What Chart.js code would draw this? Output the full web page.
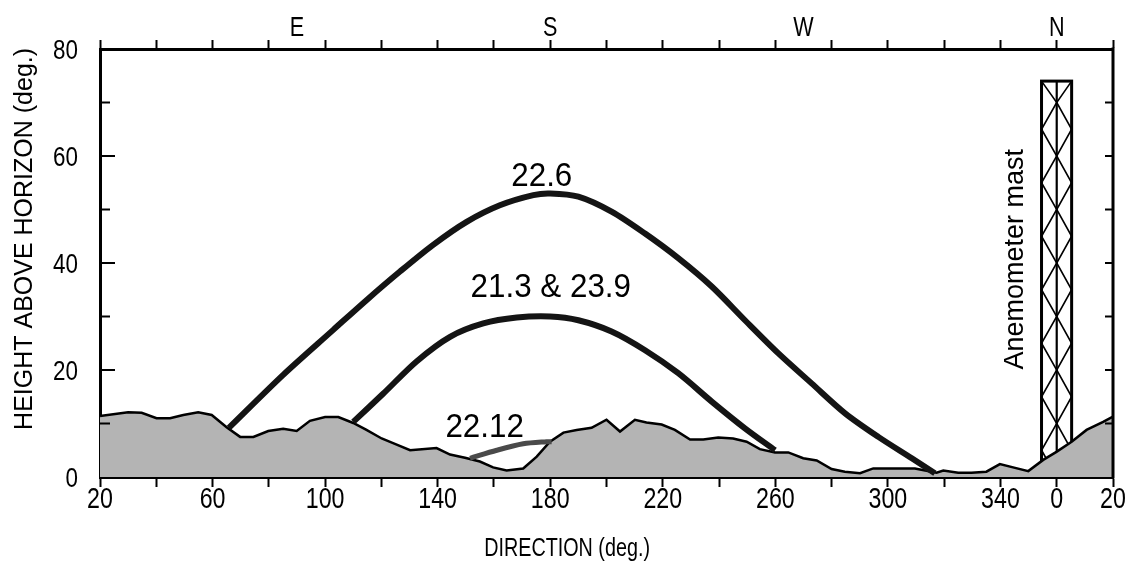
<!DOCTYPE html>
<html><head><meta charset="utf-8">
<script src="https://cdn.jsdelivr.net/npm/chart.js@4/dist/chart.umd.min.js"></script>
<style>html,body{margin:0;padding:0;background:#fff;}#wrap{width:1131px;height:561px;}</style>
</head><body><div id="wrap"><canvas id="c" width="1131" height="561"></canvas></div>
<script>
// ---- data ----
const horizonDir = [20,30,34.8,40.1,44.9,49.6,54.9,59.7,65,69.8,74.5,79.8,85.1,89.9,94.6,100,104.7,110,114.7,120.1,124.8,130.2,139.6,144.4,149.7,155,159.7,164.5,170.4,175.2,179.9,184.7,189.4,194.7,200,204.8,210.1,214.2,219.6,224.3,229.7,234.4,239.7,245,249.8,254.5,259.9,264.6,269.9,274.7,280,284.7,290.1,294.8,299.5,309.6,317.3,319.7,325,329.7,335,339.8,345.2,349.9,355.2,359.9,365.3,370.6,376.5,380];
const horizonAlt = [11.4,12.1,12.0,11.0,11.0,11.6,12.1,11.6,9.3,7.5,7.5,8.6,9.0,8.6,10.5,11.2,11.2,10.1,8.8,7.2,6.2,5.0,5.4,4.2,3.6,2.9,1.8,1.2,1.6,3.8,6.6,8.3,8.8,9.2,10.7,8.5,10.7,10.2,9.8,8.8,7.0,7.0,7.4,7.2,6.6,5.2,4.6,4.6,3.5,3.1,1.5,1.0,0.7,1.6,1.6,1.6,0.8,1.2,0.8,0.8,1.0,2.4,1.7,1.1,3.2,4.7,6.6,8.8,10.3,11.3];

const juneDir = [65.8,85.1,102.9,114.8,126.6,138.4,150.3,162.1,174,180,190,201.8,213.7,225.5,237.4,249.2,261.1,272.9,284.8,296.6,308.5,316.7];
const juneAlt = [9.2,19.1,27.5,33.1,38.4,43.4,47.7,50.8,52.7,53.0,52.4,49.6,45.5,40.9,35.6,29.3,23.1,17.5,11.9,7.5,3.5,0.7];

const equinoxDir = [110,120.7,132.5,144.4,156.2,168.1,180,190,201.8,213.7,225.5,237.4,249.2,259.9];
const equinoxAlt = [10.3,15.6,21.6,26.2,28.7,29.8,30.0,29.3,27.2,23.7,19.4,14.1,9.1,5.0];

const decemberDir = [151.5,161,170.4,178.7,180.5];
const decemberAlt = [3.5,5.0,6.2,6.6,6.6];

const bottomTickValues = [20,60,100,140,180,220,260,300,340,360,380];
const bottomTickText   = ['20','60','100','140','180','220','260','300','340','0','20'];
const compassValues = [90,180,270,360];
const compassText   = ['E','S','W','N'];
const yLabelValues = [0,20,40,60,80];
const xTitle = 'DIRECTION (deg.)';
const yTitle = 'HEIGHT ABOVE HORIZON (deg.)';

const curveLabelText = ['22.6','21.3 & 23.9','22.12'];
const curveLabelDir  = [177,180.2,156.7];
const curveLabelAlt  = [54.4,33.6,7.5];

const mastDir = [354.6,360,365.3];   // left edge, centre, right edge
const mastTopAlt = 74;
const mastNodeAlt = [70,65,60,55,50,45,40,35,30,25,20,15,10,5,0];
const mastLabel = 'Anemometer mast';
const mastLabelDir = 345.5, mastLabelAlt = 40.7;

// ---- build ----
const pts = (xs, ys) => xs.map((x, i) => ({x, y: ys[i]}));
const FONT = "'Liberation Sans', Arial, sans-serif";
const range = (a, b, s) => { const r = []; for (let v = a; v <= b; v += s) r.push(v); return r; };

function txt(ctx, s, x, y, size, sx, align, base, rot) {
  ctx.save();
  ctx.translate(x, y);
  if (rot) ctx.rotate(rot);
  ctx.scale(sx, 1);
  ctx.font = size + 'px ' + FONT;
  ctx.fillStyle = '#000';
  ctx.textAlign = align;
  ctx.textBaseline = base;
  ctx.fillText(s, 0, 0);
  ctx.restore();
}

const decor = {
  id: 'decor',
  beforeDatasetsDraw(chart) {
    const {ctx} = chart;
    const x = chart.scales.x, y = chart.scales.y;
    const xl = x.getPixelForValue(mastDir[0]), xc = x.getPixelForValue(mastDir[1]), xr = x.getPixelForValue(mastDir[2]);
    const yt = y.getPixelForValue(mastTopAlt), yb = y.getPixelForValue(0);
    ctx.save();
    ctx.strokeStyle = '#000';
    ctx.lineWidth = 1.6;
    ctx.beginPath();
    ctx.moveTo(xl, yt); let edge = false;
    mastNodeAlt.forEach(a => { ctx.lineTo(edge ? xl : xc, y.getPixelForValue(a)); edge = !edge; });
    ctx.moveTo(xr, yt); edge = false;
    mastNodeAlt.forEach(a => { ctx.lineTo(edge ? xr : xc, y.getPixelForValue(a)); edge = !edge; });
    ctx.stroke();
    ctx.lineWidth = 2.2;
    ctx.beginPath(); ctx.moveTo(xc, yt); ctx.lineTo(xc, yb); ctx.stroke();
    ctx.lineWidth = 3;
    ctx.strokeRect(xl, yt, xr - xl, yb - yt);
    ctx.restore();
  },
  afterDatasetsDraw(chart) {
    const {ctx, chartArea: ca} = chart;
    const x = chart.scales.x, y = chart.scales.y;
    ctx.save();
    ctx.strokeStyle = '#000';
    ctx.lineWidth = 3;
    ctx.beginPath(); ctx.moveTo(ca.right, ca.top - 1.5); ctx.lineTo(ca.right, ca.bottom + 1.5); ctx.stroke();
    ctx.lineWidth = 2;
    range(10, 70, 10).forEach(v => {
      const py = y.getPixelForValue(v);
      const len = v % 20 === 0 ? 15 : 10;
      ctx.beginPath(); ctx.moveTo(ca.left, py); ctx.lineTo(ca.left + len, py); ctx.stroke();
      ctx.beginPath(); ctx.moveTo(ca.right, py); ctx.lineTo(ca.right - 8, py); ctx.stroke();
    });
    ctx.restore();
    // curve labels
    curveLabelText.forEach((t, i) => txt(ctx, t, x.getPixelForValue(curveLabelDir[i]), y.getPixelForValue(curveLabelAlt[i]), 33, 0.95, 'center', 'alphabetic'));
    // mast label
    txt(ctx, mastLabel, x.getPixelForValue(mastLabelDir), y.getPixelForValue(mastLabelAlt), 27, 1, 'center', 'middle', -Math.PI / 2);
  },
  afterDraw(chart) {
    const {ctx, chartArea: ca} = chart;
    const x = chart.scales.x, y = chart.scales.y;
    // bottom tick labels (condensed)
    bottomTickValues.forEach((v, i) => txt(ctx, bottomTickText[i], x.getPixelForValue(v), ca.bottom + 31, 29, 0.8, 'center', 'alphabetic'));
    // compass labels on top
    compassValues.forEach((v, i) => txt(ctx, compassText[i], x.getPixelForValue(v), ca.top - 13, 27, 0.8, 'center', 'alphabetic'));
    // left tick labels
    yLabelValues.forEach(v => txt(ctx, String(v), ca.left - 22, y.getPixelForValue(v) + 10, 28, 0.8, 'right', 'alphabetic'));
    // axis titles
    txt(ctx, xTitle, x.getPixelForValue(186), ca.bottom + 79, 25, 0.79, 'center', 'alphabetic');
    txt(ctx, yTitle, 25, y.getPixelForValue(44.5), 25, 1, 'center', 'middle', -Math.PI / 2);
  }
};

new Chart(document.getElementById('c'), {
  type: 'line',
  data: {
    datasets: [
      {label: '22.6', data: pts(juneDir, juneAlt), borderColor: '#141414', borderWidth: 6, pointRadius: 0, tension: 0.3, order: 0},
      {label: '21.3 & 23.9', data: pts(equinoxDir, equinoxAlt), borderColor: '#141414', borderWidth: 6, pointRadius: 0, tension: 0.3, order: 0},
      {label: '22.12', data: pts(decemberDir, decemberAlt), borderColor: '#4a4a4a', borderWidth: 5, pointRadius: 0, tension: 0.3, order: 0},
      {label: 'horizon', data: pts(horizonDir, horizonAlt), borderColor: '#000', borderWidth: 2.5, backgroundColor: '#b4b4b4', fill: 'origin', pointRadius: 0, tension: 0, order: 5}
    ]
  },
  options: {
    responsive: false, animation: false, devicePixelRatio: 1,
    layout: {padding: {right: 18, left: 0, top: 0, bottom: 0}},
    plugins: {legend: {display: false}, tooltip: {enabled: false}},
    scales: {
      x: {
        type: 'linear', position: 'bottom', min: 20, max: 380,
        afterBuildTicks: s => { s.ticks = range(20, 380, 20).map(v => ({value: v})); },
        afterFit: s => { s.height = 84; },
        ticks: {display: false, autoSkip: false},
        grid: {drawOnChartArea: false, drawTicks: true, tickLength: 10, tickWidth: 2, tickColor: '#000'},
        border: {display: true, width: 3, color: '#000'}
      },
      x2: {
        type: 'linear', position: 'top', min: 20, max: 380,
        afterBuildTicks: s => { s.ticks = range(20, 380, 20).map(v => ({value: v})); },
        afterFit: s => { s.height = 49; },
        ticks: {display: false, autoSkip: false},
        grid: {drawOnChartArea: false, drawTicks: true, tickLength: 9, tickWidth: 2, tickColor: '#000'},
        border: {display: true, width: 3, color: '#000'}
      },
      y: {
        type: 'linear', position: 'left', min: 0, max: 80,
        afterBuildTicks: s => { s.ticks = range(0, 80, 10).map(v => ({value: v})); },
        afterFit: s => { s.width = 100; },
        ticks: {display: false},
        grid: {drawOnChartArea: false, drawTicks: false},
        border: {display: true, width: 3, color: '#000'}
      }
    }
  },
  plugins: [decor]
});
</script>
</body></html>
